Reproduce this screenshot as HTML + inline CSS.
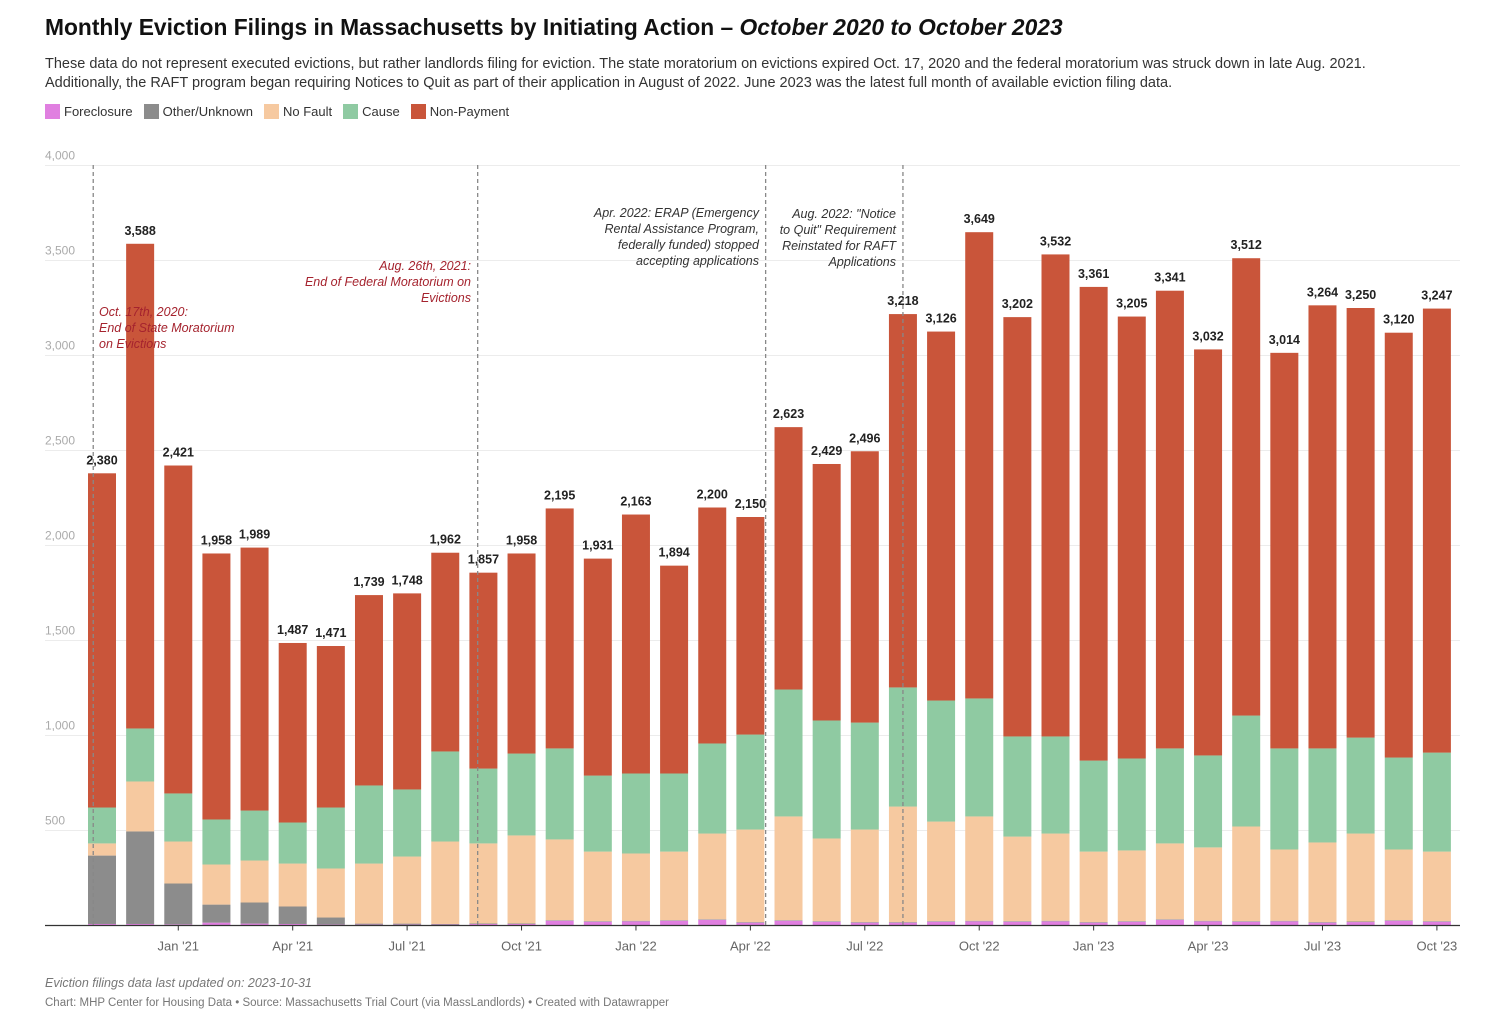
<!DOCTYPE html>
<html><head><meta charset="utf-8"><style>
body{margin:0;background:#fff;font-family:"Liberation Sans",sans-serif;color:#222}
#wrap{position:relative;width:1490px;height:1022px;overflow:hidden}
h1{position:absolute;left:45px;top:14px;margin:0;font-size:22.8px;font-weight:bold;color:#111}
.sub{position:absolute;left:45px;top:55px;width:1430px;font-size:14.5px;line-height:19px;color:#333}
.legend{position:absolute;left:45px;top:104px;font-size:13px;color:#333;display:flex;gap:11px}
.legend span{display:flex;align-items:center}
.legend i{display:inline-block;width:15px;height:15px;margin-right:4px}
.foot{position:absolute;left:45px;font-size:12px;color:#777}
</style></head><body>
<div id="wrap">
<h1>Monthly Eviction Filings in Massachusetts by Initiating Action – <i>October 2020 to October 2023</i></h1>
<div class="sub">These data do not represent executed evictions, but rather landlords filing for eviction. The state moratorium on evictions expired Oct. 17, 2020 and the federal moratorium was struck down in late Aug. 2021.<br>Additionally, the RAFT program began requiring Notices to Quit as part of their application in August of 2022. June 2023 was the latest full month of available eviction filing data.</div>
<div class="legend">
<span><i style="background:#e07fe0"></i>Foreclosure</span>
<span><i style="background:#8c8c8c"></i>Other/Unknown</span>
<span><i style="background:#f6c9a0"></i>No Fault</span>
<span><i style="background:#8fcaa2"></i>Cause</span>
<span><i style="background:#c9553a"></i>Non-Payment</span>
</div>
<svg id="svg" width="1490" height="1022" style="position:absolute;left:0;top:0"></svg>
<div class="foot" style="top:976px;font-style:italic;font-size:12.5px">Eviction filings data last updated on: 2023-10-31</div>
<div class="foot" style="top:997px;font-size:11.5px">Chart: MHP Center for Housing Data • Source: Massachusetts Trial Court (via MassLandlords) • Created with Datawrapper</div>
</div>
<script>
const totals=[2380,3588,2421,1958,1989,1487,1471,1739,1748,1962,1857,1958,2195,1931,2163,1894,2200,2150,2623,2429,2496,3218,3126,3649,3202,3532,3361,3205,3341,3032,3512,3014,3264,3250,3120,3247];
const foreclosure=[8,8,6,15,10,8,5,5,5,5,8,8,25,20,22,25,30,15,25,20,15,15,20,22,20,22,15,20,30,22,20,22,15,18,25,20];
const other=[360,487,215,95,111,92,37,5,5,3,3,3,3,3,3,3,3,3,3,3,3,3,3,3,3,3,3,3,3,3,3,3,3,3,3,3];
const noFault=[64,263,221,211,221,226,258,316,353,434,421,463,425,366,354,361,451,487,546,435,487,608,524,549,445,459,371,372,399,386,498,375,419,463,372,366];
const cause=[189,279,253,237,263,216,321,411,353,474,394,431,479,400,421,411,474,500,668,621,563,627,637,621,527,511,479,484,500,484,584,532,495,505,484,521];
const tickLabels=["Jan '21","Apr '21","Jul '21","Oct '21","Jan '22","Apr '22","Jul '22","Oct '22","Jan '23","Apr '23","Jul '23","Oct '23"];
const tickIdx=[2,5,8,11,14,17,20,23,26,29,32,35];
const yTicks=[500,1000,1500,2000,2500,3000,3500,4000];
const events=[{x:-0.23},{x:9.85},{x:17.4},{x:21}];

const svg=document.getElementById('svg');const NS='http://www.w3.org/2000/svg';
const x0=102,step=38.14,bw=28,y0=925.5,k=0.19;
const X=i=>x0+i*step, Y=v=>y0-v*k;
function el(t,a,p){const e=document.createElementNS(NS,t);for(const n in a)e.setAttribute(n,a[n]);(p||svg).appendChild(e);return e;}
yTicks.forEach(v=>{
 const g=el('line',{x1:45,x2:1460,y1:Y(v),y2:Y(v),stroke:'#ececec','stroke-width':1});
 
 
 const t=el('text',{x:45,y:Y(v)-6,'font-size':12,fill:'#aaa','font-family':'Liberation Sans,sans-serif'});
 t.textContent=v.toLocaleString('en-US');
 
 
});
const colors=['#e07fe0','#8c8c8c','#f6c9a0','#8fcaa2','#c9553a'];
totals.forEach((tot,i)=>{
 const parts=[foreclosure[i],other[i],noFault[i],cause[i]];
 const np=tot-parts.reduce((a,b)=>a+b,0);parts.push(np);
 let acc=0;
 const names=['foreclosure','other','no-fault','cause','non-payment'];
 parts.forEach((v,j)=>{
  const r=el('rect',{x:X(i)-bw/2,y:Y(acc+v),width:bw,height:v*k,fill:colors[j]});
  
  
  acc+=v;
 });
 const t=el('text',{x:X(i),y:Y(tot)-9,'text-anchor':'middle','font-size':12.5,'font-weight':'bold',fill:'#222','font-family':'Liberation Sans,sans-serif'});
 t.textContent=tot.toLocaleString('en-US');
 
 
});
const ax=el('line',{x1:45,x2:1460,y1:y0,y2:y0,stroke:'#333','stroke-width':1.2});


tickIdx.forEach((ti,j)=>{
 el('line',{x1:X(ti),x2:X(ti),y1:y0,y2:y0+5,stroke:'#333'});
 const t=el('text',{x:X(ti),y:y0+25,'text-anchor':'middle','font-size':13,fill:'#666','font-family':'Liberation Sans,sans-serif'});
 t.textContent=tickLabels[j];
 
 
});
events.forEach((e,j)=>{
 const l=el('line',{x1:X(e.x),x2:X(e.x),y1:165,y2:y0,stroke:'#888','stroke-width':1.3,'stroke-dasharray':'4,3'});
 
 
});
function note(lines,x,y,anchor,color,name){
 const t=el('text',{x:x,y:y,'text-anchor':anchor,'font-size':12.5,'font-style':'italic',fill:color,'font-family':'Liberation Sans,sans-serif'});
 lines.forEach((s,i)=>{const ts=el('tspan',{x:x,dy:i?16:0},t);ts.textContent=s;});
 
 
}
note(['Oct. 17th, 2020:','End of State Moratorium','on Evictions'],99,316,'start','#a5232e','annotation-state-moratorium');
note(['Aug. 26th, 2021:','End of Federal Moratorium on','Evictions'],471,270,'end','#a5232e','annotation-federal-moratorium');
note(['Apr. 2022: ERAP (Emergency','Rental Assistance Program,','federally funded) stopped','accepting applications'],759,217,'end','#333','annotation-erap');
note(['Aug. 2022: "Notice','to Quit" Requirement','Reinstated for RAFT','Applications'],896,218,'end','#333','annotation-raft');
</script>
</body></html>
